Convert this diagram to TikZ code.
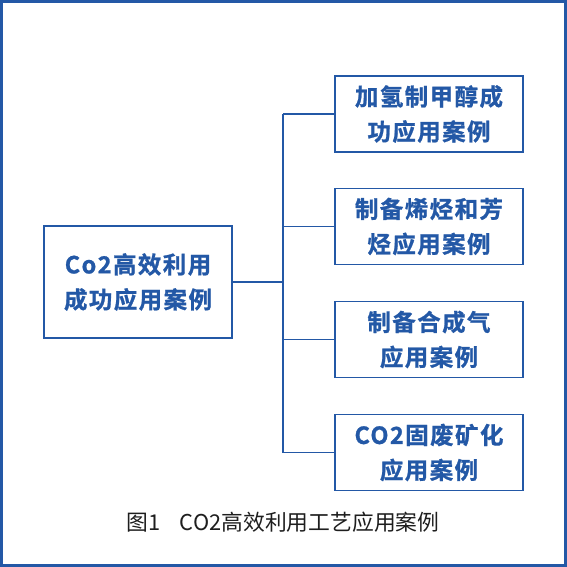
\documentclass[tikz,border=0pt]{standalone}
\usepackage{fontspec}
\newfontfamily\cjkb[LetterSpace=6,FakeBold=1]{Noto Sans CJK SC Bold}
\newfontfamily\cjk{Noto Sans CJK SC}
\definecolor{bl}{HTML}{2358A6}
\definecolor{cap}{HTML}{1E1E1E}
\begin{document}
\begin{tikzpicture}[x=1pt,y=-1pt,
  box/.style={draw=bl,line width=1.4pt,fill=white,inner sep=0pt,
    text=bl,align=center,font=\cjkb\fontsize{23.5}{35}\selectfont},
  conn/.style={draw=bl,line width=1.3pt}]
\useasboundingbox (0,0) rectangle (567,567);
\draw[bl,line width=3pt] (1.5,1.5) rectangle (565.5,565.5);
\node[box,minimum width=188pt,minimum height=112pt] (main) at (138,282) {Co2高效利用\\成功应用案例};
\node[box,minimum width=188pt,minimum height=76pt] (b1) at (429,114) {加氢制甲醇成\\功应用案例};
\node[box,minimum width=188pt,minimum height=76pt] (b2) at (429,226.5) {制备烯烃和芳\\烃应用案例};
\node[box,minimum width=188pt,minimum height=76pt] (b3) at (429,339.5) {制备合成气\\应用案例};
\node[box,minimum width=188pt,minimum height=76pt] (b4) at (429,452.5) {CO2固废矿化\\应用案例};
\coordinate (t1) at (283,114);
\coordinate (t4) at (283,452.5);
\coordinate (tm) at (283,282);
\draw[conn] (t1) -- (t4);
\draw[conn] (main.east) -- (tm);
\draw[conn] (t1) -- (b1.west);
\draw[conn] (283,226.5) -- (b2.west);
\draw[conn] (283,339.5) -- (b3.west);
\draw[conn] (t4) -- (b4.west);
\node[font=\cjk\fontsize{21.8}{24}\selectfont,text=cap] (caption) at (283,522) {图1\hspace{0.9em}CO2高效利用工艺应用案例};
\end{tikzpicture}
\end{document}
